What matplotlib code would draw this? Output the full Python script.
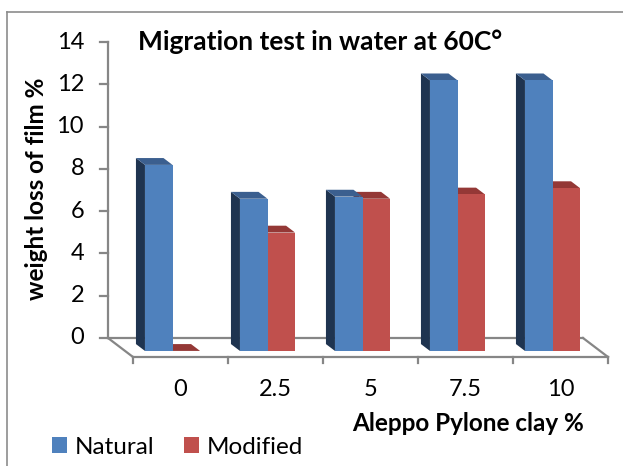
import matplotlib.pyplot as plt
from matplotlib.patches import Polygon, Patch
from matplotlib.lines import Line2D

plt.rcParams['font.family'] = ['Lato', 'DejaVu Sans']

categories = ['0', '2.5', '5', '7.5', '10']
natural = [8.8, 7.2, 7.3, 12.8, 12.8]
modified = [0.0, 5.6, 7.2, 7.4, 7.7]
yticks = [0, 2, 4, 6, 8, 10, 12, 14]

blue, blue_side, blue_top = '#4F81BD', '#1F3450', '#3B5F8F'
red, red_side, red_top = '#C0504D', '#7A2E2C', '#943836'
axis_col = '#868686'

W, H = 623, 466
CAT_PX, UNIT_PX = 95.0, 21.14      # pixel size of one category / one value unit
X0_PX, Y0_PX = 108, 338            # back-wall origin in pixels
DX, DY = 25 / CAT_PX, 19 / UNIT_PX  # floor depth in data units
ZF, ZB = 0.68, 0.32                # bar front / back depth
bw = 0.29

fig = plt.figure(figsize=(W / 100, H / 100), dpi=100)
ax = fig.add_axes([0, 0, 1, 1])
ax.set_xlim(-0.5 - X0_PX / CAT_PX, -0.5 + (W - X0_PX) / CAT_PX)
ax.set_ylim((Y0_PX - H) / UNIT_PX, Y0_PX / UNIT_PX)
ax.axis('off')

# floor and value axis
n = len(categories)
lw = 1.6
ax.plot([-0.5, n - 0.5], [0, 0], color=axis_col, lw=lw, zorder=1)
ax.plot([-0.5, -0.5 + DX], [0, -DY], color=axis_col, lw=lw, zorder=1)
ax.plot([n - 0.5, n - 0.5 + DX], [0, -DY], color=axis_col, lw=lw, zorder=1)
ax.plot([-0.5 + DX, n - 0.5 + DX], [-DY, -DY], color=axis_col, lw=lw, zorder=1)
for k in range(n + 1):
    ax.plot([-0.5 + k + DX] * 2, [-DY, -DY - 6 / UNIT_PX], color=axis_col, lw=lw)
ax.plot([-0.5, -0.5], [0, yticks[-1]], color=axis_col, lw=lw)
for t in yticks:
    ax.plot([-0.5 - 8 / CAT_PX, -0.5], [t, t], color=axis_col, lw=lw)
    ax.text(-0.5 - 24 / CAT_PX, t, str(t), ha='right', va='center', fontsize=17)
for i, c in enumerate(categories):
    ax.text(i + DX, -2.45, c, ha='center', va='center', fontsize=17)


def bar3d(xl, v, front, side, top):
    yb = -ZF * DY
    d = ZF - ZB
    ox, oy = -d * DX, d * DY
    ax.add_patch(Polygon([(xl, yb), (xl, yb + v), (xl + ox, yb + v + oy), (xl + ox, yb + oy)],
                         closed=True, facecolor=side, edgecolor='none', zorder=3))
    ax.add_patch(Polygon([(xl, yb + v), (xl + bw, yb + v), (xl + bw + ox, yb + v + oy), (xl + ox, yb + v + oy)],
                         closed=True, facecolor=top, edgecolor='none', zorder=3))
    ax.bar(xl, v, width=bw, bottom=yb, align='edge', color=front, edgecolor='none', zorder=3)


for i in range(n):
    bar3d(i + ZF * DX, modified[i], red, red_side, red_top)
    bar3d(i - bw + ZF * DX, natural[i], blue, blue_side, blue_top)

fig.text(0.514, 0.91, 'Migration test in water at 60C°', ha='center', va='center',
         fontsize=19, fontweight='bold')
fig.text(0.058, 0.594, 'weight loss of film %', ha='center', va='center', rotation=90,
         fontsize=17.5, fontweight='bold')
fig.text(0.751, 0.092, 'Aleppo Pylone clay %', ha='center', va='center',
         fontsize=17.5, fontweight='bold')

handles = [Patch(facecolor=blue), Patch(facecolor=red)]
fig.legend(handles, ['Natural', 'Modified'], loc='center left', bbox_to_anchor=(0.083, 0.04),
           ncol=2, frameon=False, fontsize=17.5, handlelength=0.62, handleheight=0.62,
           handletextpad=0.33, columnspacing=1.2, borderaxespad=0, borderpad=0)

fig.add_artist(Line2D([7 / W, 7 / W], [0, 1 - 12 / H], color='#8C8C8C', lw=1.2))
fig.add_artist(Line2D([7 / W, 1], [1 - 12 / H, 1 - 12 / H], color='#8C8C8C', lw=1.2))

fig.savefig('out.png', dpi=100)
